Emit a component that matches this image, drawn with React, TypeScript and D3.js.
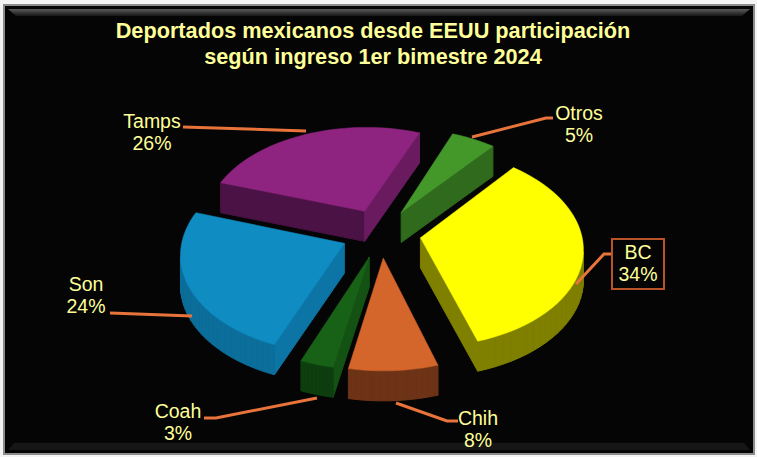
import * as d3 from 'd3';

// Chart values
const categories = ['BC', 'Chih', 'Coah', 'Son', 'Tamps', 'Otros'];
const shares = [34, 8, 3, 24, 26, 5];
const titleLines = ['Deportados mexicanos desde EEUU participación', 'según ingreso 1er bimestre 2024'];

const topColors = ['#ffff00', '#d4652b', '#186218', '#0f8cc2', '#8e2480', '#44982a'];
const rimColors = ['#7f7f00', '#6e3417', '#0f3f10', '#0c6e9a', '#4a1245', '#2f6a1d'];
const startCutColors = ['#7f7f00', '#6e3417', '#145214', '#0c75a6', '#4a1245', '#2f6a1d'];
const endCutColors = ['#7f7f00', '#6e3417', '#145214', '#0c75a6', '#6a1b60', '#2f6a1d'];

// Leader lines and label spots
const labelX = [638, 478, 178, 86, 152, 579];
const labelY = [259, 425, 418, 291, 128, 120];
const leaders = [
  [[576, 284], [604, 254], [612, 254]],
  [[396, 403], [447, 421], [458, 421]],
  [[317, 398], [216, 418], [204, 418]],
  [[192, 316], [110, 313]],
  [[306, 131], [183, 127]],
  [[472, 137], [546, 118], [553, 118]],
];

const WIDTH = 757;
const HEIGHT = 457;
const TEXT_COLOR = '#ffff99';
const LEADER_COLOR = '#e8743b';

// 3D pie set-up
const CX = 381;
const CY = 233;
const RADIUS = 161;
const TILT = 0.61;
const PERSPECTIVE = 0.1;
const DEPTH = 30;
const EXPLODE = 40;
const START = (40 * Math.PI) / 180;

const project = (u: number, v: number, h: number): [number, number] => {
  const s = 1 + (PERSPECTIVE * v) / RADIUS;
  return [CX + u * s, CY + v * TILT * s + h];
};

const closed = d3.line().curve(d3.curveLinearClosed);
const open = d3.line();

const pie = d3.pie<number>().sort(null).startAngle(START).endAngle(START + Math.PI * 2);

export default function App() {
  const arcs = pie(shares);

  const slices = arcs.map((a, i) => {
    const mid = (a.startAngle + a.endAngle) / 2;
    const ox = EXPLODE * Math.sin(mid);
    const oy = -EXPLODE * Math.cos(mid);
    const rim = d3.range(0, 41).map(k => {
      const t = a.startAngle + ((a.endAngle - a.startAngle) * k) / 40;
      return [ox + RADIUS * Math.sin(t), oy - RADIUS * Math.cos(t)] as [number, number];
    });
    const topPts = [[ox, oy] as [number, number], ...rim].map(p => project(p[0], p[1], 0));

    const faces: { p: [number, number]; q: [number, number]; fill: string }[] = [];
    faces.push({ p: [ox, oy], q: rim[0], fill: startCutColors[i] });
    faces.push({ p: rim[rim.length - 1], q: [ox, oy], fill: endCutColors[i] });
    rim.slice(1).forEach((r, k) => faces.push({ p: rim[k], q: r, fill: rimColors[i] }));

    // keep only the faces turned to the viewer
    const walls: { d: string; fill: string }[] = [];
    faces.forEach(f => {
      const pts = [
        project(f.p[0], f.p[1], 0),
        project(f.q[0], f.q[1], 0),
        project(f.q[0], f.q[1], DEPTH),
        project(f.p[0], f.p[1], DEPTH),
      ];
      if (d3.polygonArea(pts) > 0) walls.push({ d: closed(pts) || '', fill: f.fill });
    });

    return { i, depth: project(ox, oy, 0)[1], top: closed(topPts) || '', walls };
  });

  const ordered = [...slices].sort((a, b) => a.depth - b.depth);

  return (
    <svg
      width={WIDTH}
      height={HEIGHT}
      viewBox={`0 0 ${WIDTH} ${HEIGHT}`}
      style={{ position: 'absolute', left: 0, top: 0, fontFamily: '"Liberation Sans", Arial, sans-serif' }}
    >
      <defs>
        <linearGradient id="bevelTop" x1="0" y1="0" x2="0" y2="1">
          <stop offset="0" stopColor="#5a5a5a" />
          <stop offset="1" stopColor="#161616" />
        </linearGradient>
      </defs>

      {/* Frame */}
      <rect width={WIDTH} height={HEIGHT} fill="#f4f4f4" />
      <rect x={3} y={4} width={752} height={451} fill="#8c8c8c" />
      <rect x={5} y={6} width={748} height={447} fill="#050505" />
      <polygon points="8,9 750,9 742,16 16,16" fill="url(#bevelTop)" />
      <polygon points="8,450 750,450 744,443 14,443" fill="#161616" />

      {/* Title */}
      {titleLines.map((line, i) => (
        <text key={line} x={373} y={38 + i * 26} textAnchor="middle" fontSize={21.7} fontWeight={700} fill={TEXT_COLOR}>
          {line}
        </text>
      ))}

      {/* Slices, back to front */}
      {ordered.map(s => (
        <g key={categories[s.i]}>
          {s.walls.map((w, k) => (
            <path key={k} d={w.d} fill={w.fill} stroke={w.fill} strokeWidth={1} />
          ))}
          <path d={s.top} fill={topColors[s.i]} stroke={topColors[s.i]} strokeWidth={0.5} />
        </g>
      ))}

      {/* Leader lines */}
      {leaders.map((pts, i) => (
        <path key={i} d={open(pts as [number, number][]) || ''} fill="none" stroke={LEADER_COLOR} strokeWidth={3} />
      ))}

      {/* Highlight box for the largest share */}
      <rect x={612} y={239} width={52} height={50} fill="none" stroke="#b8532a" strokeWidth={2} />

      {/* Labels */}
      {categories.map((c, i) => (
        <text key={c} textAnchor="middle" fontSize={19.5} fill={TEXT_COLOR}>
          <tspan x={labelX[i]} y={labelY[i]}>{c}</tspan>
          <tspan x={labelX[i]} y={labelY[i] + 21.5}>{`${shares[i]}%`}</tspan>
        </text>
      ))}
    </svg>
  );
}
